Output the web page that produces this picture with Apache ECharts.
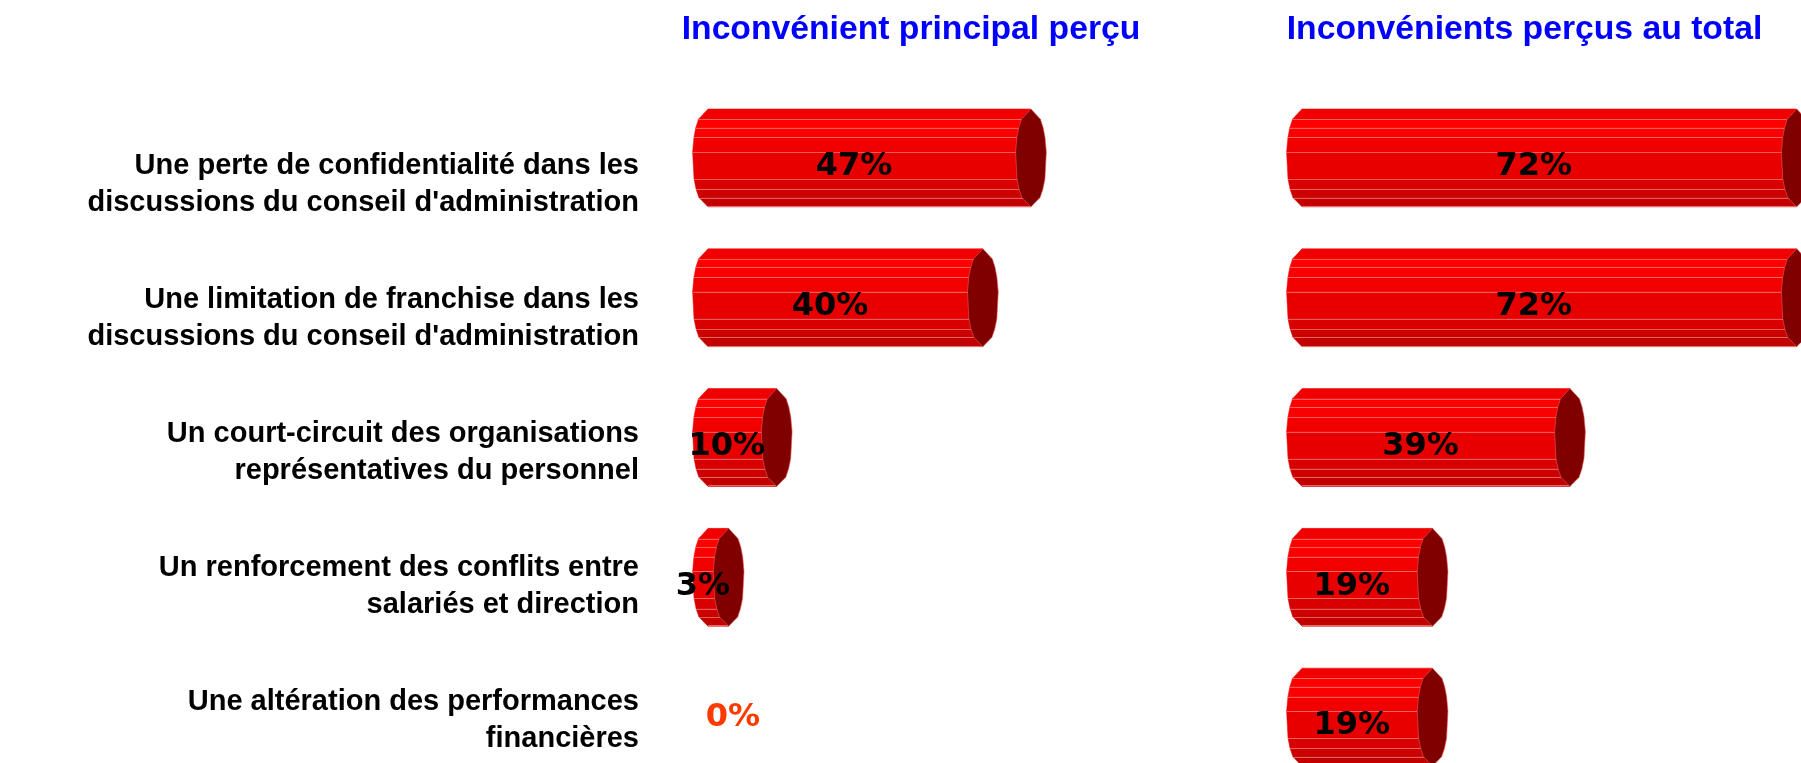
<!DOCTYPE html>
<html>
<head>
<meta charset="utf-8">
<script src="https://cdn.jsdelivr.net/npm/echarts@6/dist/echarts.min.js"></script>
<style>
  html, body { margin: 0; padding: 0; background: #fff; }
  #chart { width: 1801px; height: 763px; }
</style>
</head>
<body>
<div id="chart"></div>
<script>
// data
const categories = [
  "Une perte de confidentialité dans les\ndiscussions du conseil d'administration",
  "Une limitation de franchise dans les\ndiscussions du conseil d'administration",
  "Un court-circuit des organisations\nreprésentatives du personnel",
  "Un renforcement des conflits entre\nsalariés et direction",
  "Une altération des performances\nfinancières"
];
const mainValues = [47, 40, 10, 3, 0];     // Inconvénient principal perçu
const totalValues = [72, 72, 39, 19, 19];  // Inconvénients perçus au total
const titles = ['Inconvénient principal perçu', 'Inconvénients perçus au total'];

// facets of the cylinder, top to bottom (fraction of radius) and their shading
const facets = [-1, -0.79, -0.62, -0.42, -0.12, 0.43, 0.64, 0.81, 1];
const facetColors = ['#f00000', '#ff0000', '#fb0000', '#f20000', '#e80000', '#d80000', '#cc0000', '#c20000'];

const myChart = echarts.init(document.getElementById('chart'));

function cylinder(params, api) {
  const v = api.value(0);
  const idx = api.value(1);
  const start = api.coord([0, idx]);
  const end = api.coord([v, idx]);
  const r = api.size([0, 1])[1] * 0.35;
  const rx = 15.5;
  const x0 = start[0], x1 = end[0], cy = start[1];
  const children = [];

  if (v === 0) {
    children.push({
      type: 'text',
      style: {
        x: x0 + 25, y: cy + 1, text: v + '%',
        fill: '#ff3a00', font: 'bold 32px "DejaVu Sans"',
        align: 'center', verticalAlign: 'middle'
      }
    });
    return { type: 'group', children };
  }

  const w = f => rx * Math.sqrt(Math.max(0, 1 - f * f));

  // body facets
  for (let i = 0; i < facets.length - 1; i++) {
    const yt = cy + facets[i] * r, yb = cy + facets[i + 1] * r;
    children.push({
      type: 'polygon',
      shape: { points: [[x0 - w(facets[i]), yt], [x1, yt], [x1, yb], [x0 - w(facets[i + 1]), yb]] },
      style: { fill: facetColors[i], stroke: facetColors[i], lineWidth: 0.5 }
    });
  }
  // light facet edges
  for (let i = 1; i < facets.length - 1; i++) {
    const y = Math.round(cy + facets[i] * r) + 0.5;
    children.push({
      type: 'line',
      shape: { x1: x0 - w(facets[i]), y1: y, x2: x1, y2: y },
      style: { stroke: 'rgba(255,150,150,0.6)', lineWidth: 1 }
    });
  }
  const yb = Math.round(cy + r) - 0.5;
  children.push({
    type: 'line',
    shape: { x1: x0, y1: yb, x2: x1, y2: yb },
    style: { stroke: 'rgba(255,140,140,0.7)', lineWidth: 1 }
  });

  // end cap
  const cap = [];
  facets.forEach(f => cap.push([x1 + w(f), cy + f * r]));
  facets.slice().reverse().forEach(f => cap.push([x1 - w(f), cy + f * r]));
  children.push({
    type: 'polygon',
    shape: { points: cap },
    style: { fill: '#800000', stroke: 'rgba(230,90,90,0.6)', lineWidth: 1 }
  });

  children.push({
    type: 'text',
    style: {
      x: (x0 + x1) / 2 - rx, y: cy + 9,
      text: v + '%', fill: '#000', font: 'bold 32px "DejaVu Sans"',
      align: 'center', verticalAlign: 'middle'
    }
  });
  return { type: 'group', children };
}

const barY = { top: 88, height: 699, outerBoundsMode: 'none', containLabel: false };
const hiddenCat = {
  type: 'category', data: categories, inverse: true,
  axisLine: { show: false }, axisTick: { show: false }, axisLabel: { show: false }
};
const hiddenVal = {
  type: 'value', min: 0, max: 70,
  axisLine: { show: false }, axisTick: { show: false },
  axisLabel: { show: false }, splitLine: { show: false }
};

const option = {
  backgroundColor: '#fff',
  animation: false,
  title: titles.map((t, i) => ({
    text: t,
    left: i === 0 ? 911 : 1524.5,
    top: 29.5,
    padding: 0,
    textAlign: 'center',
    textVerticalAlign: 'middle',
    textStyle: { color: '#0000ff', fontSize: 33.7, fontWeight: 'bold', fontFamily: '"Liberation Sans", Arial, sans-serif' }
  })),
  grid: [
    { left: 708, width: 481, ...barY },
    { left: 1302, width: 481, ...barY },
    { left: 646, width: 10, top: 118, height: 669.5, outerBoundsMode: 'none', containLabel: false }
  ],
  xAxis: [
    { ...hiddenVal, gridIndex: 0 },
    { ...hiddenVal, gridIndex: 1 },
    { ...hiddenVal, gridIndex: 2 }
  ],
  yAxis: [
    { ...hiddenCat, gridIndex: 0 },
    { ...hiddenCat, gridIndex: 1 },
    {
      type: 'category', data: categories, inverse: true, gridIndex: 2,
      axisLine: { show: false }, axisTick: { show: false },
      axisLabel: {
        margin: 7, color: '#000', fontSize: 29, fontWeight: 'bold',
        fontFamily: '"Liberation Sans", Arial, sans-serif',
        lineHeight: 37, align: 'right'
      }
    }
  ],
  series: [
    {
      type: 'custom', xAxisIndex: 0, yAxisIndex: 0, clip: false,
      renderItem: cylinder,
      encode: { x: 0, y: 1 },
      data: mainValues.map((v, i) => [v, i])
    },
    {
      type: 'custom', xAxisIndex: 1, yAxisIndex: 1, clip: false,
      renderItem: cylinder,
      encode: { x: 0, y: 1 },
      data: totalValues.map((v, i) => [v, i])
    }
  ]
};

myChart.setOption(option);
</script>
</body>
</html>
